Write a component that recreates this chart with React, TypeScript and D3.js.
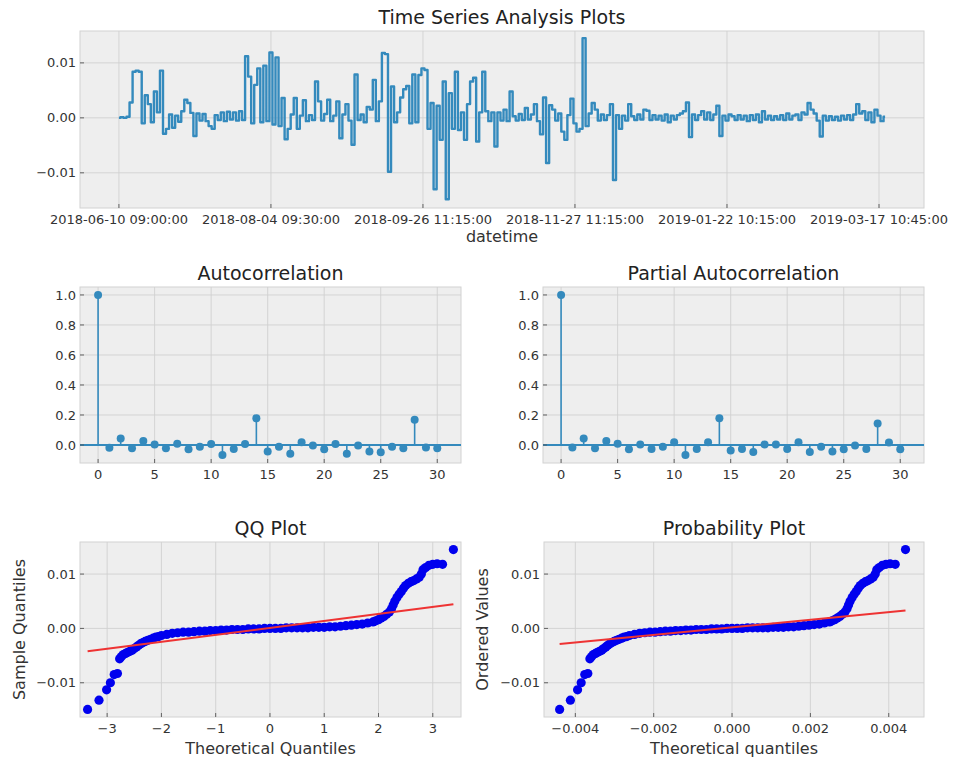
import * as d3 from 'd3';

// series values (one value per ~3px of the original plot)
const returns = [
  0.0, 0.0001, 0.0, 0.0002, 0.0028, 0.0084, 0.0086, 0.0084, -0.001, 0.0041, 0.0025, -0.0008, 0.0048, 0.001, 0.0086, -0.0029,
  -0.002, 0.0006, -0.0018, 0.0004, -0.0007, 0.0012, 0.0033, 0.0027, 0.0009, -0.0033, 0.0008, -0.0005, 0.0007, -0.0006, -0.0015, -0.002,
  0.0005, -0.0004, 0.001, -0.0006, 0.0011, -0.0003, 0.001, -0.0005, 0.0012, -0.0004, 0.0112, 0.0075, -0.001, 0.006, 0.009, -0.0008,
  0.0095, -0.0006, 0.0119, -0.0012, 0.011, -0.0015, 0.0036, -0.0039, -0.002, 0.0006, 0.0036, -0.002, 0.0004, 0.0032, -0.0006, 0.0005,
  -0.0004, 0.0066, 0.003, -0.0005, 0.0007, 0.0033, -0.0006, 0.0004, 0.003, -0.0037, 0.0006, 0.0025, -0.0005, -0.0049, 0.0079, -0.0004,
  0.0006, -0.0008, 0.002, 0.0015, 0.0069, -0.0006, 0.003, 0.0118, 0.0116, -0.0098, 0.0057, -0.0008, 0.001, 0.0037, 0.0052, 0.0058,
  -0.001, 0.0079, -0.0008, 0.0078, 0.009, 0.0087, -0.002, 0.0027, -0.013, 0.0022, -0.004, 0.0066, -0.0148, 0.0045, -0.002, 0.0084,
  -0.0022, 0.001, -0.004, 0.0025, 0.0066, 0.0073, -0.0043, 0.001, 0.0084, 0.0012, -0.0006, 0.001, -0.0052, 0.001, -0.0005, 0.0015,
  -0.0006, 0.0048, 0.0003, -0.0005, 0.0007, -0.0004, 0.0018, -0.0003, 0.0006, 0.0025, -0.0006, -0.003, 0.0037, -0.0082, 0.0023, 0.0015,
  -0.0005, 0.0008, -0.0025, -0.004, 0.0005, 0.0035, -0.001, -0.0025, -0.002, 0.0145, -0.0015, 0.0008, 0.0027, 0.0015, -0.0005, 0.0006,
  -0.0004, 0.0005, 0.0025, -0.0113, 0.0005, -0.002, 0.0004, -0.0005, 0.0025, 0.0003, -0.0004, 0.0006, -0.0003, 0.0015, 0.0013, -0.0004,
  0.0005, -0.0003, 0.0004, -0.0005, 0.0006, -0.0008, 0.0004, -0.0003, 0.0005, 0.0008, 0.0012, 0.0028, -0.0035, 0.0006, -0.0004, 0.0005,
  0.0012, -0.0003, 0.001, -0.0004, 0.0006, 0.0022, -0.0033, 0.0004, -0.0005, 0.0006, 0.0003, -0.0004, 0.0005, -0.0003, 0.0004, -0.0006,
  0.0005, -0.0004, 0.0006, -0.0008, 0.0012, -0.0003, 0.0004, -0.0004, 0.0003, -0.0003, 0.0005, -0.0004, 0.0008, -0.0003, 0.0004, 0.0006,
  -0.0004, 0.001, 0.0006, 0.0027, 0.0015, 0.0008, -0.0005, -0.0034, 0.0004, -0.0005, 0.0003, -0.0004, 0.0002, -0.0005, 0.0004, -0.0003,
  0.0005, -0.0004, 0.0006, 0.0025, 0.0008, 0.0012, -0.0004, 0.001, -0.0008, 0.0015, 0.0004, -0.0006, 0.0002,
];
const dateTicks = [
  '2018-06-10 09:00:00',
  '2018-08-04 09:30:00',
  '2018-09-26 11:15:00',
  '2018-11-27 11:15:00',
  '2019-01-22 10:15:00',
  '2019-03-17 10:45:00',
];
const dateTickStep = 50;
const returnTicks = [-0.01, 0, 0.01];

const acf = [
  1.0, -0.018, 0.044, -0.022, 0.027, 0.004, -0.022, 0.009, -0.029, -0.011, 0.007, -0.067, -0.027, 0.007, 0.178, -0.044,
  -0.011, -0.058, 0.018, -0.004, -0.029, 0.007, -0.058, -0.004, -0.044, -0.049, -0.011, -0.022, 0.169, -0.016, -0.022,
];
const pacf = [
  1.0, -0.016, 0.044, -0.022, 0.027, 0.009, -0.029, 0.004, -0.027, -0.011, 0.018, -0.067, -0.027, 0.018, 0.178, -0.036,
  -0.027, -0.047, 0.004, 0.004, -0.027, 0.018, -0.047, -0.011, -0.044, -0.029, -0.004, -0.027, 0.144, 0.016, -0.029,
];
const lagTicks = [0, 5, 10, 15, 20, 25, 30];
const corrTicks = [0, 0.2, 0.4, 0.6, 0.8, 1.0];

const qqTheoretical = [
  -3.36, -3.15, -3.01, -2.94, -2.87, -2.81, -2.77, -2.74, -2.7, -2.66, -2.62, -2.58, -2.54, -2.5, -2.46, -2.42,
  -2.38, -2.34, -2.3, -2.25, -2.2, -2.15, -2.1, -2.05, -2.0, -1.9, -1.8, -1.7, -1.6, -1.5, -1.4, -1.3,
  -1.2, -1.1, -1.0, -0.9, -0.8, -0.7, -0.6, -0.5, -0.4, -0.3, -0.2, -0.1, 0.0, 0.1, 0.2, 0.3,
  0.4, 0.5, 0.6, 0.7, 0.8, 0.9, 1.0, 1.1, 1.2, 1.3, 1.4, 1.5, 1.6, 1.7, 1.8, 1.9,
  1.95, 2.0, 2.05, 2.1, 2.15, 2.2, 2.24, 2.27, 2.3, 2.34, 2.38, 2.42, 2.46, 2.5, 2.55, 2.6,
  2.65, 2.7, 2.75, 2.79, 2.82, 2.87, 2.93, 3.0, 3.08, 3.18, 3.38,
];
const qqSample = [
  -0.0149, -0.0132, -0.0113, -0.01, -0.0085, -0.0083, -0.0056, -0.0052, -0.0048, -0.0046, -0.0044, -0.0042, -0.004, -0.0037, -0.0034, -0.0031,
  -0.0028, -0.0026, -0.0024, -0.0022, -0.002, -0.0018, -0.0016, -0.0015, -0.0013, -0.0011, -0.0009, -0.0008, -0.0007, -0.0007, -0.0006, -0.0005,
  -0.0005, -0.0004, -0.0004, -0.0003, -0.0003, -0.0002, -0.0002, -0.0002, -0.0001, -0.0001, -0.0001, 0.0, 0.0, 0.0, 0.0, 0.0001,
  0.0001, 0.0001, 0.0001, 0.0001, 0.0002, 0.0002, 0.0002, 0.0003, 0.0003, 0.0004, 0.0005, 0.0006, 0.0007, 0.0008, 0.001, 0.0012,
  0.0014, 0.0016, 0.0019, 0.0022, 0.0026, 0.003, 0.0036, 0.0043, 0.005, 0.0057, 0.0063, 0.0068, 0.0074, 0.0079, 0.0083, 0.0086,
  0.0088, 0.0091, 0.0094, 0.01, 0.0108, 0.0112, 0.0116, 0.0118, 0.0119, 0.0118, 0.0145,
];
const qqTicksX = [-3, -2, -1, 0, 1, 2, 3];
const qqTicksY = [-0.01, 0, 0.01];
const qqFit = [0.00128, 0.0001]; // slope, intercept
const probScale = 0.00131; // theoretical quantile -> scaled quantile
const probFit = [0.7, 0.0002]; // slope, intercept
const probTicksX = [-0.004, -0.002, 0, 0.002, 0.004];

const W = 954;
const H = 762;
const font = 'DejaVu Sans, sans-serif';
const blue = '#348ABD';

type Box = { l: number; r: number; t: number; b: number };

function Axes({
  box, x, y, xTicks, yTicks, xFmt, yFmt, xLabels, title, xLabel, xLabelGap, yLabel, yLabelX, children,
}: {
  box: Box; x: (v: number) => number; y: (v: number) => number;
  xTicks: number[]; yTicks: number[]; xFmt: (v: number) => string; yFmt: (v: number) => string;
  xLabels?: string[]; title: string; xLabel?: string; xLabelGap?: number; yLabel?: string; yLabelX?: number;
  children?: any;
}) {
  const cx = (box.l + box.r) / 2;
  return (
    <g>
      <rect x={box.l} y={box.t} width={box.r - box.l} height={box.b - box.t} fill="#eeeeee" stroke="#d2d2d2" strokeWidth={1} />
      {xTicks.map((t, i) => (
        <line key={'gx' + i} x1={x(t)} x2={x(t)} y1={box.t} y2={box.b} stroke="#d0d0d0" strokeWidth={0.9} />
      ))}
      {yTicks.map((t, i) => (
        <line key={'gy' + i} x1={box.l} x2={box.r} y1={y(t)} y2={y(t)} stroke="#d0d0d0" strokeWidth={0.9} />
      ))}
      <svg x={box.l} y={box.t} width={box.r - box.l} height={box.b - box.t} overflow="hidden">
        <g transform={`translate(${-box.l},${-box.t})`}>{children}</g>
      </svg>
      {xTicks.map((t, i) => (
        <g key={'tx' + i}>
          <line x1={x(t)} x2={x(t)} y1={box.b} y2={box.b - 4} stroke="#555" strokeWidth={0.9} />
          <text x={x(t)} y={box.b + 15.5} textAnchor="middle" fontSize={13} fill="#333">
            {xLabels ? xLabels[i] : xFmt(t)}
          </text>
        </g>
      ))}
      {yTicks.map((t, i) => (
        <g key={'ty' + i}>
          <line x1={box.l} x2={box.l + 4} y1={y(t)} y2={y(t)} stroke="#555" strokeWidth={0.9} />
          <text x={box.l - 4} y={y(t)} dy="0.35em" textAnchor="end" fontSize={13} fill="#333">
            {yFmt(t)}
          </text>
        </g>
      ))}
      <text x={cx} y={box.t - 7} textAnchor="middle" fontSize={19} fill="#222">
        {title}
      </text>
      {xLabel && (
        <text x={cx} y={box.b + (xLabelGap ?? 36)} textAnchor="middle" fontSize={16} fill="#333">
          {xLabel}
        </text>
      )}
      {yLabel && (
        <text
          transform={`translate(${yLabelX},${(box.t + box.b) / 2}) rotate(-90)`}
          textAnchor="middle"
          fontSize={16}
          fill="#333"
        >
          {yLabel}
        </text>
      )}
    </g>
  );
}

function Stems({ values, x, y, box }: { values: number[]; x: any; y: any; box: Box }) {
  return (
    <g>
      {values.map((v, i) => (
        <line key={'s' + i} x1={x(i)} x2={x(i)} y1={y(0)} y2={y(v)} stroke={blue} strokeWidth={1.6} />
      ))}
      <line x1={box.l} x2={box.r} y1={y(0)} y2={y(0)} stroke={blue} strokeWidth={2.2} />
      {values.map((v, i) => (
        <circle key={'c' + i} cx={x(i)} cy={y(v)} r={4} fill={blue} />
      ))}
    </g>
  );
}

export default function App() {
  const tsBox = { l: 80, r: 924, t: 31, b: 208 };
  const acfBox = { l: 80, r: 461, t: 287, b: 463 };
  const pacfBox = { l: 543, r: 924, t: 287, b: 463 };
  const qqBox = { l: 80, r: 461, t: 542, b: 717 };
  const probBox = { l: 544, r: 924, t: 542, b: 717 };

  const tsX = d3.scaleLinear([-12.8, 264.8], [tsBox.l, tsBox.r]);
  const tsY = d3.scaleLinear([-0.0164, 0.0158], [tsBox.b, tsBox.t]);
  const acfX = d3.scaleLinear([-1.6, 32.1], [acfBox.l, acfBox.r]);
  const pacfX = d3.scaleLinear([-1.6, 32.1], [pacfBox.l, pacfBox.r]);
  const corrY = d3.scaleLinear([-0.12, 1.053], [acfBox.b, acfBox.t]);
  const qqX = d3.scaleLinear([-3.5, 3.52], [qqBox.l, qqBox.r]);
  const qqY = d3.scaleLinear([-0.0163, 0.0159], [qqBox.b, qqBox.t]);
  const probX = d3.scaleLinear([-0.0048, 0.0049], [probBox.l, probBox.r]);

  // step curve with a heavy stroke: the original series is so dense it reads as solid strokes
  const line = d3.line<number>((_, i) => tsX(i), (v) => tsY(v)).curve(d3.curveStep);
  const f2 = d3.format('.2f');
  const f1 = d3.format('.1f');
  const f3 = d3.format('.3f');
  const fi = d3.format('d');

  const qMin = d3.min(qqTheoretical)!;
  const qMax = d3.max(qqTheoretical)!;
  const pMin = qMin * probScale;
  const pMax = qMax * probScale;

  return (
    <svg width={W} height={H} style={{ position: 'absolute', left: 0, top: 0, background: '#fff' }} fontFamily={font}>
      <Axes
        box={tsBox} x={tsX} y={tsY}
        xTicks={dateTicks.map((_, i) => i * dateTickStep)} yTicks={returnTicks}
        xFmt={fi} yFmt={f2} xLabels={dateTicks}
        title="Time Series Analysis Plots" xLabel="datetime" xLabelGap={34}
      >
        <path d={line(returns) ?? ''} fill="none" stroke={blue} strokeWidth={2.4} strokeLinejoin="round" />
      </Axes>

      <Axes box={acfBox} x={acfX} y={corrY} xTicks={lagTicks} yTicks={corrTicks} xFmt={fi} yFmt={f1} title="Autocorrelation">
        <Stems values={acf} x={acfX} y={corrY} box={acfBox} />
      </Axes>

      <Axes box={pacfBox} x={pacfX} y={corrY} xTicks={lagTicks} yTicks={corrTicks} xFmt={fi} yFmt={f1} title="Partial Autocorrelation">
        <Stems values={pacf} x={pacfX} y={corrY} box={pacfBox} />
      </Axes>

      <Axes
        box={qqBox} x={qqX} y={qqY} xTicks={qqTicksX} yTicks={qqTicksY} xFmt={fi} yFmt={f2}
        title="QQ Plot" xLabel="Theoretical Quantiles" xLabelGap={37} yLabel="Sample Quantiles" yLabelX={25}
      >
        {qqTheoretical.map((q, i) => (
          <circle key={i} cx={qqX(q)} cy={qqY(qqSample[i])} r={4.6} fill="#0000ee" />
        ))}
        <line
          x1={qqX(qMin)} y1={qqY(qqFit[1] + qqFit[0] * qMin)}
          x2={qqX(qMax)} y2={qqY(qqFit[1] + qqFit[0] * qMax)}
          stroke="#ee3333" strokeWidth={2}
        />
      </Axes>

      <Axes
        box={probBox} x={probX} y={qqY} xTicks={probTicksX} yTicks={qqTicksY} xFmt={f3} yFmt={f2}
        title="Probability Plot" xLabel="Theoretical quantiles" xLabelGap={37} yLabel="Ordered Values" yLabelX={488}
      >
        {qqTheoretical.map((q, i) => (
          <circle key={i} cx={probX(q * probScale)} cy={qqY(qqSample[i])} r={4.6} fill="#0000ee" />
        ))}
        <line
          x1={probX(pMin)} y1={qqY(probFit[1] + probFit[0] * pMin)}
          x2={probX(pMax)} y2={qqY(probFit[1] + probFit[0] * pMax)}
          stroke="#ee3333" strokeWidth={2}
        />
      </Axes>
    </svg>
  );
}
